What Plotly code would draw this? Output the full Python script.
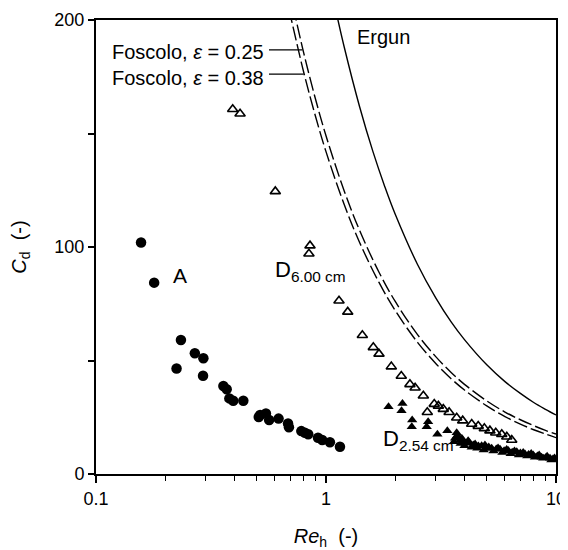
import plotly.graph_objects as go

# Series A (filled circles)
a_re = [0.157, 0.179, 0.224, 0.234, 0.269, 0.293, 0.292, 0.358, 0.370, 0.380, 0.395, 0.437,
        0.510, 0.517, 0.548, 0.566, 0.622, 0.684, 0.690, 0.781, 0.810, 0.837, 0.923, 0.963, 1.04, 1.15]
a_cd = [102, 84.3, 46.5, 59, 53.2, 51, 43.3, 38.8, 37.3, 33.3, 32.3, 32.3,
        25.1, 26, 26.7, 23.8, 24.4, 22.3, 20.6, 18.9, 18.2, 17.5, 16, 15, 14, 12]

# D 6.00 cm (open triangles)
d6_re = [0.393, 0.423, 0.602, 0.852, 0.843, 1.139, 1.243, 1.439, 1.606, 1.70, 1.923, 2.125,
         2.317, 2.44, 2.65, 2.757, 2.956, 3.08, 3.236, 3.43, 3.70, 3.93, 4.30, 4.59, 4.88,
         5.16, 5.47, 5.81, 6.11, 6.42]
d6_cd = [160.7, 158.7, 124.5, 100.6, 97, 76.3, 71.4, 61.1, 55.8, 52.9, 47.3, 43.2,
         39.5, 38, 34.5, 27.2, 30.8, 30, 28.6, 27.2, 24.8, 23.5, 22, 21.1, 20.1,
         19.1, 18.2, 17.5, 16.4, 15]

# D 2.54 cm (filled triangles)
d2_re = [1.87, 2.15, 2.13, 2.37, 2.36, 2.78, 2.74, 3.05, 3.37, 3.70, 3.64, 3.83, 3.75, 3.95,
         4.06, 4.2, 4.37, 4.6, 4.91, 4.99, 5.25, 5.5, 5.71, 5.95, 6.20, 6.45, 6.75, 7.0,
         7.33, 7.6, 7.96, 8.3, 8.66, 9.0, 9.42, 9.7, 10.0,
         3.6, 3.72, 3.85, 3.9, 4.0, 4.15, 4.3, 4.45, 4.55, 4.75, 4.85, 5.1, 5.35, 5.6,
         5.85, 6.1, 6.35, 6.6, 6.9, 7.2, 7.5, 7.8, 8.1, 8.45, 8.8, 9.15, 9.55, 9.85]
d2_cd = [29.6, 31.1, 27.9, 23.8, 20.8, 23.0, 20.8, 17.5, 19.1, 18.2, 15.7, 15, 16.5, 14.5,
         13.5, 13.8, 12.8, 12.3, 12.8, 11.3, 11.3, 11, 10.9, 10.2, 10.3, 9.6, 9.8, 9.2,
         8.8, 8.6, 8.4, 7.9, 7.4, 7.2, 6.9, 6.6, 6.5,
         14.2, 16.8, 13.4, 15.6, 12.5, 14.6, 11.8, 13.2, 11.3, 12.4, 10.6, 11.9, 10.1, 11.4,
         9.5, 10.8, 8.9, 10.1, 8.4, 9.5, 7.9, 9.0, 7.4, 8.4, 6.9, 7.8, 6.2, 7.1]

# Ergun curve
erg_re = [1.10, 1.2, 1.4, 1.6, 1.8, 2.0, 2.5, 3, 3.5, 4, 5, 6, 7, 8, 9, 10]
erg_cd = [204.8, 188.1, 161.8, 142.0, 126.7, 114.4, 92.3, 77.6, 67.0, 59.2, 48.1, 40.7,
          35.5, 31.5, 28.5, 26.0]

# Foscolo curves
f25_re = [0.72, 0.8, 0.9, 1.0, 1.2, 1.4, 1.7, 2.0, 2.5, 3, 3.5, 4, 5, 6, 7, 8, 9, 10]
f25_cd = [205.8, 185.5, 165.2, 149, 124.7, 107.3, 88.9, 76, 61.4, 51.7, 44.7, 39.5, 32.2,
          27.3, 23.9, 21.3, 19.2, 17.6]
f38_re = [0.69, 0.8, 0.9, 1.0, 1.2, 1.4, 1.7, 2.0, 2.5, 3, 3.5, 4, 5, 6, 7, 8, 9, 10]
f38_cd = [204.9, 177, 157.6, 142, 118.7, 102, 84.4, 72, 58, 48.7, 42, 37, 30, 25.3, 22,
          19.5, 17.6, 16]

# Leader lines for labels
lead25_re = [0.565, 0.79]
lead25_cd = [186.8, 186.8]
lead38_re = [0.565, 0.80]
lead38_cd = [176.2, 176.2]

x_major = [0.1, 1, 10]
x_minor = [0.2, 0.3, 0.4, 0.5, 0.6, 0.7, 0.8, 0.9, 2, 3, 4, 5, 6, 7, 8, 9]
y_ticks = [0, 50, 100, 150, 200]
y_text = ["0", "", "100", "", "200"]

FONT = "Liberation Sans, Arial, sans-serif"

fig = go.Figure()
fig.add_trace(go.Scatter(x=erg_re, y=erg_cd, mode="lines", line=dict(color="black", width=1.4, shape="spline")))
fig.add_trace(go.Scatter(x=f25_re, y=f25_cd, mode="lines", line=dict(color="black", width=1.4, dash="14px,4px", shape="spline")))
fig.add_trace(go.Scatter(x=f38_re, y=f38_cd, mode="lines", line=dict(color="black", width=1.4, dash="14px,4px", shape="spline")))
fig.add_trace(go.Scatter(x=lead25_re, y=lead25_cd, mode="lines", line=dict(color="black", width=1.2)))
fig.add_trace(go.Scatter(x=lead38_re, y=lead38_cd, mode="lines", line=dict(color="black", width=1.2)))
fig.add_trace(go.Scatter(x=a_re, y=a_cd, mode="markers", marker=dict(symbol="circle", size=10.5, color="black")))
fig.add_trace(go.Scatter(x=d6_re, y=d6_cd, mode="markers",
                         marker=dict(symbol="triangle-up-open", size=9, color="black", line=dict(width=1.6))))
fig.add_trace(go.Scatter(x=d2_re, y=d2_cd, mode="markers",
                         marker=dict(symbol="triangle-up", size=9, color="black")))

anns = [
    dict(x=-0.262, y=185.9, text="Foscolo, <i>ε</i> = 0.25", xanchor="right", size=20),
    dict(x=-0.262, y=174.4, text="Foscolo, <i>ε</i> = 0.38", xanchor="right", size=20),
    dict(x=0.126, y=192.5, text="Ergun", xanchor="left", size=20),
    dict(x=-0.636, y=87.5, text="A", xanchor="center", size=21),
    dict(x=-0.2304, y=89.5, text="D<sub>6.00 cm</sub>", xanchor="left", size=22),
    dict(x=0.239, y=15.0, text="D<sub>2.54 cm</sub>", xanchor="left", size=22),
]
for a in anns:
    fig.add_annotation(x=a["x"], y=a["y"], text=a["text"], xanchor=a["xanchor"], yanchor="middle",
                       showarrow=False, font=dict(family=FONT, size=a["size"], color="black"))

fig.update_layout(
    width=560, height=542,
    margin=dict(l=88, r=12, t=12, b=76, autoexpand=False),
    paper_bgcolor="white", plot_bgcolor="white",
    showlegend=False,
    font=dict(family=FONT, size=18, color="black"),
    xaxis=dict(
        type="log", range=[-1, 1], automargin=False,
        tickvals=x_major, ticktext=["0.1", "1", "10"],
        tickfont=dict(family=FONT, size=18, color="black"),
        ticks="outside", ticklen=7, tickwidth=2, tickcolor="black",
        minor=dict(tickvals=x_minor, ticks="outside", ticklen=5, tickwidth=1.2, tickcolor="black"),
        showline=True, linecolor="black", linewidth=2, mirror=True,
        showgrid=False, zeroline=False,
        title=dict(text="<i>Re</i><sub>h</sub>  (-)", font=dict(family=FONT, size=20, color="black"), standoff=22),
    ),
    yaxis=dict(
        range=[0, 200], automargin=False,
        tickvals=y_ticks, ticktext=y_text,
        tickfont=dict(family=FONT, size=18, color="black"),
        ticks="outside", ticklen=6, tickwidth=2, tickcolor="black",
        showline=True, linecolor="black", linewidth=2, mirror=True,
        showgrid=False, zeroline=False,
        title=dict(text="<i>C</i><sub>d</sub>  (-)", font=dict(family=FONT, size=20, color="black"), standoff=26),
    ),
)

fig.write_html("out.html")
